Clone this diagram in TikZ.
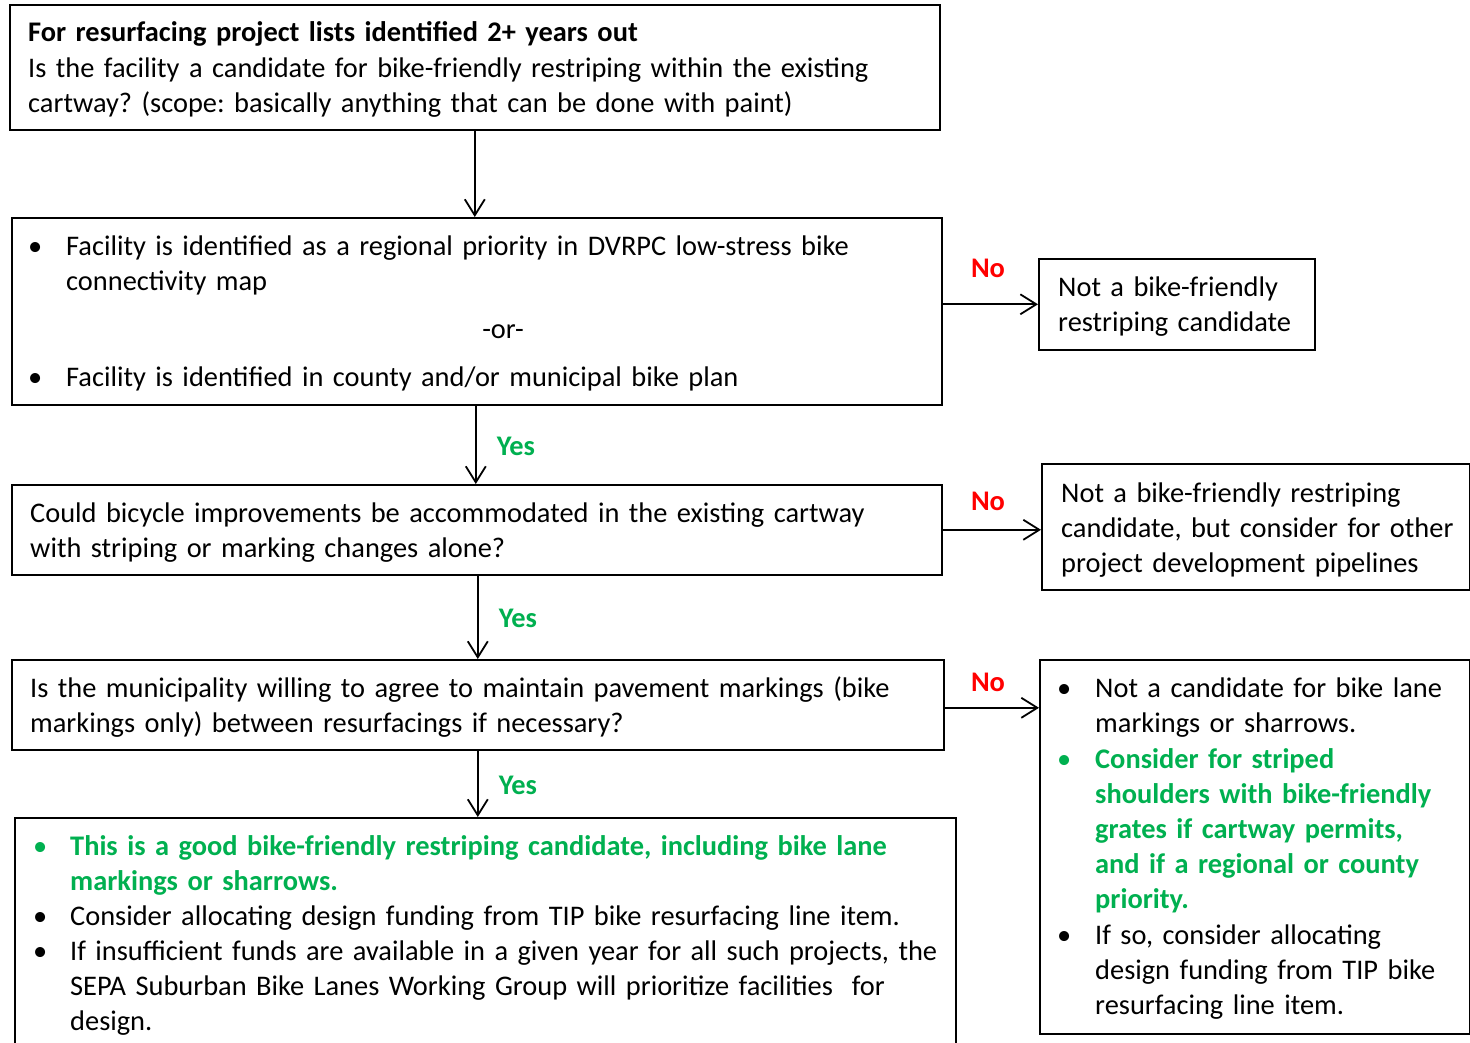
\documentclass[tikz,border=0pt]{standalone}
\usepackage{fontspec}
\setmainfont{Carlito}
\usetikzlibrary{arrows.meta}
\definecolor{okgreen}{HTML}{00B050}
\definecolor{nored}{HTML}{FF0000}
\newcommand{\bodyfont}{\frenchspacing\fontsize{28.4}{35.2}\selectfont}
\tikzset{
  box/.style={draw=black, line width=1.6pt, inner sep=0pt, anchor=north west},
  txt/.style={anchor=base west, inner sep=0pt, text width=#1, align=left,
    font=\bodyfont},
  bul/.style={anchor=base west, inner sep=0pt, font=\bodyfont},
  flow/.style={line width=1.8pt, -{Straight Barb[length=16pt,width=20pt,line width=1.8pt]}},
  nolbl/.style={text=nored, inner sep=0pt, font=\bfseries\fontsize{28.4}{30}\selectfont},
  yeslbl/.style={text=okgreen, inner sep=0pt, font=\bfseries\fontsize{28.4}{30}\selectfont},
}
\begin{document}
\begin{tikzpicture}[x=1pt,y=-1pt]
\useasboundingbox (0,0) rectangle (1470,1043);
\clip (0,0) rectangle (1470,1043);
\fill[white] (0,0) rectangle (1470,1043);
% boxes
\node[box, minimum width=930pt, minimum height=125pt] (b1) at (9,4) {};
\node[box, minimum width=930pt, minimum height=187pt] (b2) at (11,217) {};
\node[box, minimum width=276pt, minimum height=91pt] (r1) at (1038,258) {};
\node[box, minimum width=930pt, minimum height=90pt] (b3) at (11,484) {};
\node[box, minimum width=428pt, minimum height=126pt] (r2) at (1041,463) {};
\node[box, minimum width=932pt, minimum height=90pt] (b4) at (11,659) {};
\node[box, minimum width=430pt, minimum height=374pt] (r3) at (1039,659) {};
\node[box, minimum width=941pt, minimum height=240pt] (b5) at (14,817) {};
% box 1 text
\node[txt=900pt] (t1) at (28,42) {\textbf{For resurfacing project lists identified 2+ years out}\\
Is the facility a candidate for bike-friendly restriping within the existing\\
cartway? (scope: basically anything that can be done with paint)};
% box 2 text
\node[bul] (t2a) at (28,255) {•};
\node[txt=860pt] (t2b) at (66,255) {Facility is identified as a regional priority in DVRPC low-stress bike\\connectivity map};
\node[anchor=base, inner sep=0pt, font=\bodyfont] (t2c) at (503,338) {-or-};
\node[bul] (t2d) at (28,386) {•};
\node[txt=860pt] (t2e) at (66,386) {Facility is identified in county and/or municipal bike plan};
% r1
\node[txt=260pt] (tr1) at (1058,296) {Not a bike-friendly\\restriping candidate};
% box 3
\node[txt=900pt] (t3) at (30,522) {Could bicycle improvements be accommodated in the existing cartway\\with striping or marking changes alone?};
% r2
\node[txt=420pt] (tr2) at (1061,502) {Not a bike-friendly restriping\\candidate, but consider for other\\project development pipelines};
% box 4
\node[txt=900pt] (t4) at (30,697) {Is the municipality willing to agree to maintain pavement markings (bike\\markings only) between resurfacings if necessary?};
% r3
\node[bul] (r3a) at (1057,697) {•};
\node[txt=370pt] (r3b) at (1095,697) {Not a candidate for bike lane\\markings or sharrows.};
\node[bul, text=okgreen] (r3c) at (1057,768) {•};
\node[txt=370pt, text=okgreen, font=\bodyfont\bfseries] (r3d) at (1095,768) {Consider for striped\\shoulders with bike-friendly\\grates if cartway permits,\\and if a regional or county\\priority.};
\node[bul] (r3e) at (1057,944) {•};
\node[txt=370pt] (r3f) at (1095,944) {If so, consider allocating\\design funding from TIP bike\\resurfacing line item.};
% box 5
\node[bul, text=okgreen] (t5a) at (33,855) {•};
\node[txt=880pt, text=okgreen, font=\bodyfont\bfseries] (t5b) at (70,855) {This is a good bike-friendly restriping candidate, including bike lane\\markings or sharrows.};
\node[bul] (t5c) at (33,925) {•};
\node[txt=880pt] (t5d) at (70,925) {Consider allocating design funding from TIP bike resurfacing line item.};
\node[bul] (t5e) at (33,960) {•};
\node[txt=880pt] (t5f) at (70,960) {If insufficient funds are available in a given year for all such projects, the\\SEPA Suburban Bike Lanes Working Group will prioritize facilities\ \ for\\design.};
% connectors
\draw[flow] (b1.south) -- (b1.south |- b2.north);
\draw[flow] ([xshift=-1pt]b2.south) -- ([xshift=-1pt]b2.south |- b3.north);
\draw[flow] ([xshift=1pt]b3.south) -- ([xshift=1pt]b3.south |- b4.north);
\draw[flow] (b4.south) -- (b4.south |- b5.north);
\draw[flow] (r1.west -| b2.east) -- (r1.west);
\draw[flow] (b3.east) -- (b3.east -| r2.west);
\draw[flow] ([yshift=-3pt]b4.east) -- ([yshift=-3pt]b4.east -| r3.west);
% labels
\node[nolbl] (n1) at (988,268) {No};
\node[nolbl] (n2) at (988,501) {No};
\node[nolbl] (n3) at (988,682) {No};
\node[yeslbl] (y1) at (516,446) {Yes};
\node[yeslbl] (y2) at (518,618) {Yes};
\node[yeslbl] (y3) at (518,785) {Yes};
\end{tikzpicture}
\end{document}
